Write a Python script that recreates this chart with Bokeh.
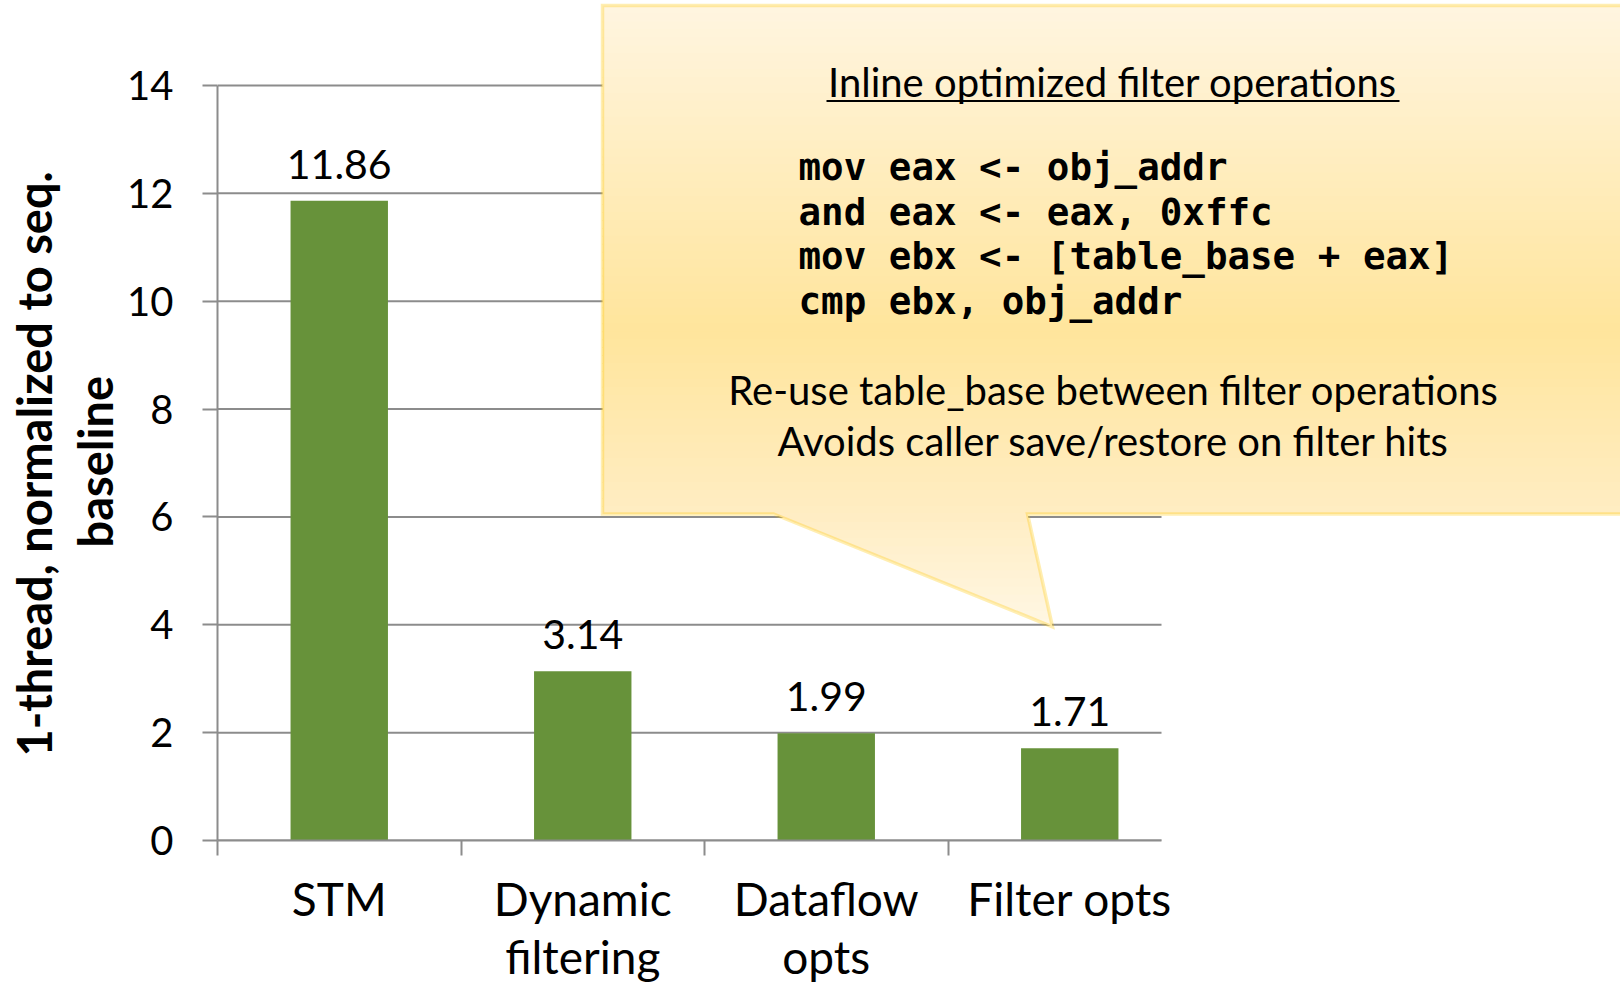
from bokeh.plotting import figure
from bokeh.models import Range1d, FixedTicker, PolyAnnotation, Label, LabelSet, ColumnDataSource, Title
from bokeh.core.properties import value
from bokeh.embed import file_html
from bokeh.resources import INLINE

# ---- data ----
categories = ["STM", "Dynamic\nfiltering", "Dataflow\nopts", "Filter opts"]
values = [11.86, 3.14, 1.99, 1.71]
value_labels = ["11.86", "3.14", "1.99", "1.71"]
y_ticks = [0, 2, 4, 6, 8, 10, 12, 14]
y_title_lines = ["1-thread, normalized to seq.", "baseline"]
callout_title = "Inline optimized filter operations"
code_lines = ["mov eax <- obj_addr", "and eax <- eax, 0xffc",
              "mov ebx <- [table_base + eax]", "cmp ebx, obj_addr"]
note_lines = ["Re-use table_base between filter operations",
              "Avoids caller save/restore on filter hits"]

FONT = "Lato"
GRID = "#8C8C8C"
BAR = "#67923A"

# ---- page geometry (pixels) ----
W, H = 1620, 987
X0, PX = 217, 243.5        # page x of category edge 0, pixels per category
Y0, PY = 841, 54.0         # page y of value 0, pixels per unit
TOP = 2
AX_END = (1161 - X0) / PX  # visible extent of the category axis

n = len(categories)
xs = [i + 0.5 for i in range(n)]

p = figure(width=W, height=H,
           x_range=Range1d(0, (W - X0) / PX), y_range=Range1d(0, (Y0 - TOP) / PY),
           output_backend="svg", toolbar_location=None,
           min_border_left=X0, min_border_right=0, min_border_top=TOP, min_border_bottom=H - Y0)
p.outline_line_color = None
p.xgrid.grid_line_color = None
p.ygrid.grid_line_color = None

# grid lines limited to the visible category extent
p.segment(x0=[0] * len(y_ticks), x1=[AX_END] * len(y_ticks), y0=y_ticks, y1=y_ticks,
          line_color=GRID, line_width=2)

src = ColumnDataSource(dict(x=xs, top=values, lab=value_labels))
p.vbar(x="x", top="top", width=0.4, source=src, fill_color=BAR, line_color=None)
p.add_layout(LabelSet(x="x", y="top", text="lab", source=src, y_offset=22,
                      text_align="center", text_baseline="alphabetic",
                      text_font=value(FONT), text_font_size=value("41px"), text_color="black"))

# y axis
ya = p.yaxis[0]
ya.bounds = (0, max(y_ticks))
ya.ticker = FixedTicker(ticks=y_ticks)
ya.axis_line_color = GRID
ya.axis_line_width = 2
ya.major_tick_line_color = GRID
ya.major_tick_line_width = 2
ya.major_tick_out = 15
ya.major_tick_in = 0
ya.minor_tick_line_color = None
ya.major_label_text_font = FONT
ya.major_label_text_font_size = "40px"
ya.major_label_text_color = "black"
ya.major_label_standoff = 29

# y axis title: two lines, each centred on the 0..14 span
# (offset = distance from the frame bottom to the start of each line)
title_starts = [757, 548]
for line, start in reversed(list(zip(y_title_lines, title_starts))):
    p.add_layout(Title(text=line, align="left", offset=Y0 - start,
                       text_font=FONT, text_font_style="bold", text_font_size="47px",
                       text_color="black", standoff=3), "left")

# x axis
xa = p.xaxis[0]
xa.bounds = (0, AX_END)
xa.ticker = FixedTicker(ticks=xs, minor_ticks=list(range(n)))
xa.major_label_overrides = {x: c for x, c in zip(xs, categories)}
xa.axis_line_color = GRID
xa.axis_line_width = 2
xa.major_tick_line_color = None
xa.major_tick_out = 0
xa.major_tick_in = 0
xa.minor_tick_line_color = GRID
xa.minor_tick_line_width = 2
xa.minor_tick_out = 15
xa.minor_tick_in = 0
xa.major_label_text_font = FONT
xa.major_label_text_font_size = "46px"
xa.major_label_text_color = "black"
xa.major_label_text_line_height = 1.07
xa.major_label_standoff = 15

# ---- callout (decoration), page-pixel geometry mapped to data units ----
def dx(X):
    return (X - X0) / PX

def dy(Y):
    return (Y0 - Y) / PY

BX0, BX1, BY0, BY1 = 602, 1640, 5, 514
PL, PR, TIPX, TIPY = 773, 1027, 1052, 627

def lerp(a, b, t):
    return tuple(int(round(a[k] + (b[k] - a[k]) * t)) for k in range(3))

stops = [(BY0, (255, 245, 224)), (330, (255, 229, 156)), (BY1, (255, 237, 195)), (TIPY, (255, 247, 228))]

def color_at(y):
    for (y0, c0), (y1, c1) in zip(stops[:-1], stops[1:]):
        if y0 <= y <= y1:
            return "#%02x%02x%02x" % lerp(c0, c1, (y - y0) / (y1 - y0))
    return "#%02x%02x%02x" % stops[-1][1]

N = 64
h = (BY1 - BY0) / N
for i in range(N):
    y0 = BY0 + i * h
    y1 = min(BY1, y0 + h + 1)
    p.add_layout(PolyAnnotation(xs=[dx(BX0), dx(BX1), dx(BX1), dx(BX0)],
                                ys=[dy(y0), dy(y0), dy(y1), dy(y1)],
                                fill_color=color_at(y0 + h / 2), fill_alpha=1, line_color=None))

def lx(y):
    return PL + (y - BY1) / (TIPY - BY1) * (TIPX - PL)

def rx(y):
    return PR + (y - BY1) / (TIPY - BY1) * (TIPX - PR)

M = 14
hp = (TIPY - BY1) / M
for i in range(M):
    yy0 = BY1 - 1 if i == 0 else BY1 + i * hp
    y1 = min(TIPY, BY1 + (i + 1) * hp + 1)
    p.add_layout(PolyAnnotation(xs=[dx(lx(yy0)), dx(rx(yy0)), dx(rx(y1)), dx(lx(y1))],
                                ys=[dy(yy0), dy(yy0), dy(y1), dy(y1)],
                                fill_color=color_at(BY1 + (i + 0.5) * hp), fill_alpha=1, line_color=None))
# outline
p.add_layout(PolyAnnotation(
    xs=[dx(BX0), dx(BX1), dx(BX1), dx(PR), dx(TIPX), dx(PL), dx(BX0)],
    ys=[dy(BY0), dy(BY0), dy(BY1), dy(BY1), dy(TIPY), dy(BY1), dy(BY1)],
    fill_alpha=0, line_color="#FFC800", line_width=3.5, line_join="miter"))

# texts
p.add_layout(Label(x=dx(1112), y=dy(82), text=callout_title, text_align="center",
                   text_baseline="middle", text_font=FONT, text_font_size="40px", text_color="black"))
p.add_layout(PolyAnnotation(xs=[dx(826), dx(1399), dx(1399), dx(826)],
                            ys=[dy(99.5), dy(99.5), dy(101.5), dy(101.5)],
                            fill_color="black", fill_alpha=1, line_color=None))
for line, yc in zip(code_lines, [167, 212, 256, 301]):
    p.add_layout(Label(x=dx(798), y=dy(yc), text=line, text_align="left", text_baseline="middle",
                       text_font="DejaVu Sans Mono", text_font_style="bold",
                       text_font_size="37.5px", text_color="black"))
for line, yc in zip(note_lines, [390, 441]):
    p.add_layout(Label(x=dx(1113), y=dy(yc), text=line, text_align="center", text_baseline="middle",
                       text_font=FONT, text_font_size="40px", text_color="black"))

open("out.html", "w").write(file_html(p, INLINE))
